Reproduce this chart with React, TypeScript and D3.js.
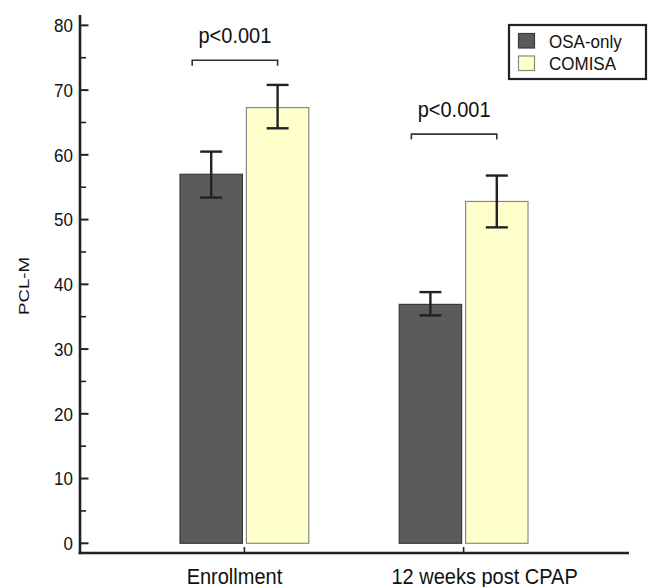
import { useEffect, useRef } from "react";
import * as d3 from "d3";

const categories = ["Enrollment", "12 weeks post CPAP"];
const series = ["OSA-only", "COMISA"];
// mean, lower and upper error bar per series, per category
const osaMeans = [57.0, 36.9];
const osaLower = [53.4, 35.2];
const osaUpper = [60.5, 38.8];
const comisaMeans = [67.3, 52.8];
const comisaLower = [64.1, 48.8];
const comisaUpper = [70.8, 56.8];
const pLabels = ["p<0.001", "p<0.001"];
const pLevels = [74.6, 63.2];
const yTicks = [0, 10, 20, 30, 40, 50, 60, 70, 80];
const yMinorTicks = [5, 15, 25, 35, 45, 55, 65, 75];

const fills: Record<string, string> = { "OSA-only": "#5b5b5b", COMISA: "#ffffcc" };
const strokes: Record<string, string> = { "OSA-only": "#3a3a3a", COMISA: "#8a8a80" };
const font = "'Liberation Sans', Arial, sans-serif";
const ink = "#222";
// the source picture is a little stretched vertically, text included
const stretch = 1.1;

export default function App() {
  const svgRef = useRef<SVGSVGElement>(null);

  useEffect(() => {
    const svg = d3.select(svgRef.current);
    svg.selectAll("*").remove();

    const left = 80;
    const right = 628;
    const top = 15;
    const bottom = 553;

    const x0 = d3.scalePoint().domain(categories).range([left, right]).padding(0.75);
    const x1 = d3.scaleBand().domain(series).range([-64.4, 64.4]).paddingInner(0.06);
    const y = d3.scaleLinear().domain([-1.5, 81.6]).range([bottom, top]);

    const at = (tx: number, ty: number) => `translate(${tx},${ty}) scale(1,${stretch})`;

    const rows = categories.map((c, i) => ({
      cat: c,
      values: [
        { s: "OSA-only", mean: osaMeans[i], lo: osaLower[i], hi: osaUpper[i] },
        { s: "COMISA", mean: comisaMeans[i], lo: comisaLower[i], hi: comisaUpper[i] }
      ]
    }));

    // bars
    const groups = svg
      .append("g")
      .selectAll("g")
      .data(rows)
      .join("g")
      .attr("transform", (d) => `translate(${x0(d.cat)},0)`);

    groups
      .selectAll("rect")
      .data((d) => d.values)
      .join("rect")
      .attr("x", (d) => x1(d.s)!)
      .attr("y", (d) => y(d.mean))
      .attr("width", x1.bandwidth())
      .attr("height", (d) => y(0) - y(d.mean))
      .attr("fill", (d) => fills[d.s])
      .attr("stroke", (d) => strokes[d.s])
      .attr("stroke-width", 1.2);

    // error bars
    const err = groups
      .selectAll("g.err")
      .data((d) => d.values)
      .join("g")
      .attr("class", "err")
      .attr("stroke", ink)
      .attr("stroke-width", 2.4);
    const cx = (d: { s: string }) => x1(d.s)! + x1.bandwidth() / 2;
    err
      .append("line")
      .attr("x1", cx)
      .attr("x2", cx)
      .attr("y1", (d) => y(d.lo))
      .attr("y2", (d) => y(d.hi));
    err
      .append("line")
      .attr("x1", (d) => cx(d) - 11)
      .attr("x2", (d) => cx(d) + 11)
      .attr("y1", (d) => y(d.hi))
      .attr("y2", (d) => y(d.hi));
    err
      .append("line")
      .attr("x1", (d) => cx(d) - 11)
      .attr("x2", (d) => cx(d) + 11)
      .attr("y1", (d) => y(d.lo))
      .attr("y2", (d) => y(d.lo));

    // significance brackets
    categories.forEach((c, i) => {
      const bx1 = x0(c)! + x1("OSA-only")! + x1.bandwidth() / 2 - 19;
      const bx2 = x0(c)! + x1("COMISA")! + x1.bandwidth() / 2;
      const by = y(pLevels[i]);
      svg
        .append("path")
        .attr("d", `M${bx1},${by + 5.5}V${by}H${bx2}V${by + 5.5}`)
        .attr("fill", "none")
        .attr("stroke", "#333")
        .attr("stroke-width", 1.6);
      svg
        .append("text")
        .attr("transform", at((bx1 + bx2) / 2, by - 17.5))
        .attr("text-anchor", "middle")
        .attr("font-family", font)
        .attr("font-size", 20)
        .attr("fill", "#111")
        .text(pLabels[i]);
    });

    // y axis
    const yAxis = svg.append("g").attr("stroke", ink);
    yAxis
      .append("line")
      .attr("x1", left)
      .attr("x2", left)
      .attr("y1", top)
      .attr("y2", bottom + 1.2)
      .attr("stroke-width", 2.6);
    yAxis
      .selectAll("line.major")
      .data(yTicks)
      .join("line")
      .attr("class", "major")
      .attr("x1", left)
      .attr("x2", left + 8.5)
      .attr("y1", (d) => y(d))
      .attr("y2", (d) => y(d))
      .attr("stroke-width", 2);
    yAxis
      .selectAll("line.minor")
      .data(yMinorTicks)
      .join("line")
      .attr("class", "minor")
      .attr("x1", left)
      .attr("x2", left + 6)
      .attr("y1", (d) => y(d))
      .attr("y2", (d) => y(d))
      .attr("stroke-width", 1.6);
    svg
      .append("g")
      .selectAll("text")
      .data(yTicks)
      .join("text")
      .attr("transform", (d) => at(left - 7, y(d)))
      .attr("dy", "0.36em")
      .attr("text-anchor", "end")
      .attr("font-family", font)
      .attr("font-size", 17)
      .attr("fill", "#111")
      .text((d) => d);

    svg
      .append("text")
      .attr("transform", `translate(29,286) rotate(-90) scale(1.2,1)`)
      .attr("text-anchor", "middle")
      .attr("font-family", font)
      .attr("font-size", 15.5)
      .attr("fill", "#111")
      .text("PCL-M");

    // x axis
    svg
      .append("line")
      .attr("x1", left - 1.3)
      .attr("x2", right + 1)
      .attr("y1", bottom)
      .attr("y2", bottom)
      .attr("stroke", ink)
      .attr("stroke-width", 2.6);
    svg
      .append("g")
      .selectAll("line")
      .data(categories)
      .join("line")
      .attr("x1", (d) => x0(d)!)
      .attr("x2", (d) => x0(d)!)
      .attr("y1", bottom)
      .attr("y2", bottom - 6)
      .attr("stroke", ink)
      .attr("stroke-width", 1.6);
    const labelShift = [-10, 21];
    svg
      .append("g")
      .selectAll("text")
      .data(categories)
      .join("text")
      .attr("transform", (d, i) => at(x0(d)! + labelShift[i], 584))
      .attr("text-anchor", "middle")
      .attr("font-family", font)
      .attr("font-size", 20)
      .attr("fill", "#111")
      .text((d) => d);

    // legend
    const lg = svg.append("g");
    lg.append("rect")
      .attr("x", 509)
      .attr("y", 25)
      .attr("width", 137)
      .attr("height", 54)
      .attr("fill", "#fff")
      .attr("stroke", ink)
      .attr("stroke-width", 2.2);
    series.forEach((s, i) => {
      lg.append("rect")
        .attr("x", 518.5)
        .attr("y", 33.5 + i * 22.5)
        .attr("width", 16)
        .attr("height", 14.5)
        .attr("fill", fills[s])
        .attr("stroke", strokes[s])
        .attr("stroke-width", 1.2);
      lg.append("text")
        .attr("transform", at(549, 48 + i * 22))
        .attr("font-family", font)
        .attr("font-size", 17)
        .attr("fill", "#111")
        .text(s);
    });
  }, []);

  return (
    <svg
      ref={svgRef}
      width={648}
      height={587}
      style={{ position: "absolute", left: 0, top: 0, background: "#fff" }}
    />
  );
}
